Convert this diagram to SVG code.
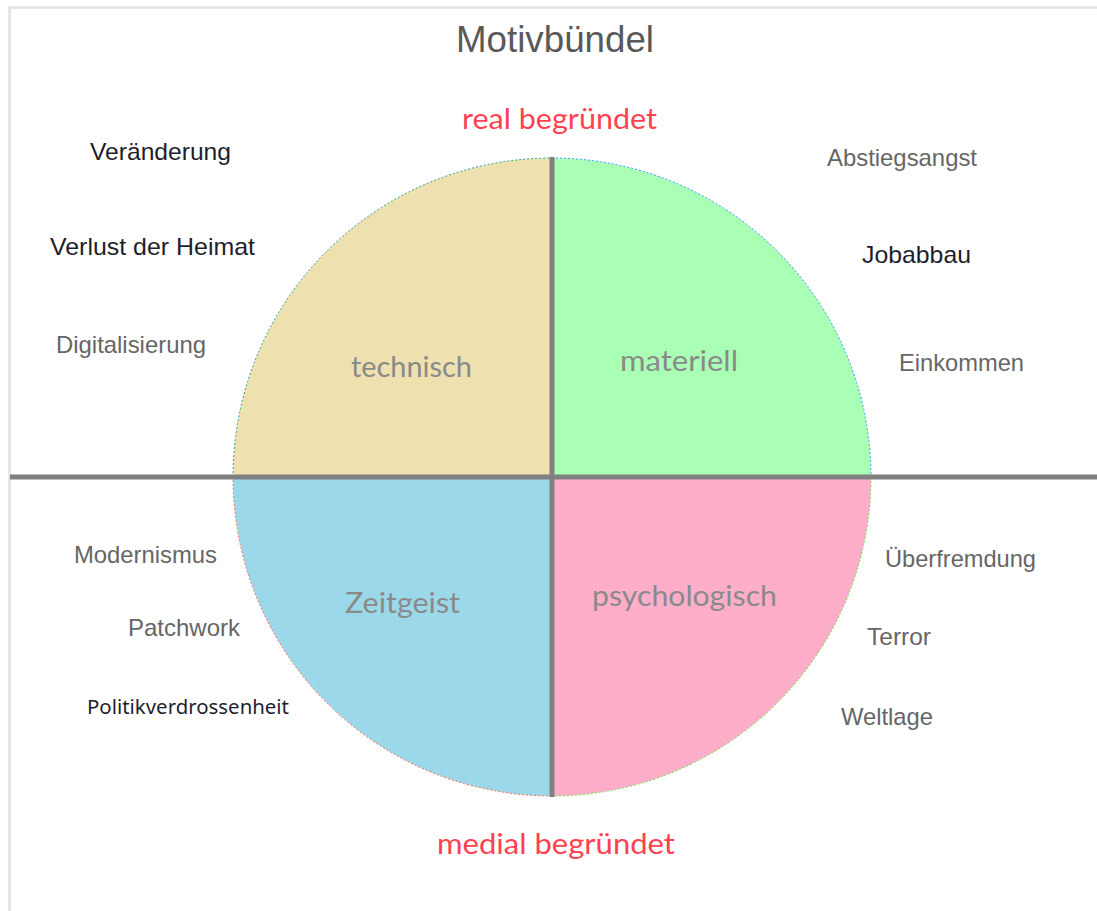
<svg xmlns="http://www.w3.org/2000/svg" width="1097" height="911" viewBox="0 0 1097 911">
<style>
.frame{fill:none;stroke:#e2e2e2;stroke-width:2.5}
.axis{stroke:#808080;stroke-width:5;fill:none}
.edge{fill:none;stroke-width:1;stroke-dasharray:2 2}
.side{font-family:"Liberation Sans",Arial,sans-serif;font-size:24px}
.dark{fill:#1e1e2a}
.grey{fill:#666666}
.quad{font-family:Lato,"Open Sans",sans-serif;font-size:28px;fill:#8a8a8a}
.red{font-family:Lato,"Open Sans",sans-serif;font-size:29px;fill:#ff4150}
.title{font-family:"Liberation Sans",Arial,sans-serif;font-size:37px;fill:#595959}
</style>
<rect x="0" y="0" width="1097" height="911" fill="#ffffff"/>
<path class="frame" d="M9.5,911 L9.5,7.5 L1097,7.5"/>
<text class="title" x="456" y="52" textLength="198" lengthAdjust="spacingAndGlyphs">Motivbündel</text>
<g id="quadrant-technisch">
<path d="M552,477 L233,477 A319,319 0 0 1 552,158 Z" fill="#eee1af"/>
<path class="edge" d="M233,477 A319,319 0 0 1 552,158" stroke="#2a9d8f"/>
<text class="quad" x="351" y="377" textLength="121" lengthAdjust="spacingAndGlyphs">technisch</text>
</g>
<g id="quadrant-materiell">
<path d="M552,477 L552,158 A319,319 0 0 1 871,477 Z" fill="#a9ffb3"/>
<path class="edge" d="M552,158 A319,319 0 0 1 871,477" stroke="#3399ff"/>
<text class="quad" x="620" y="371" textLength="118" lengthAdjust="spacingAndGlyphs">materiell</text>
</g>
<g id="quadrant-psychologisch">
<path d="M552,477 L871,477 A319,319 0 0 1 552,796 Z" fill="#ffaeca"/>
<path class="edge" d="M871,477 A319,319 0 0 1 552,796" stroke="#66dd44"/>
<text class="quad" x="592" y="606" textLength="185" lengthAdjust="spacingAndGlyphs">psychologisch</text>
</g>
<g id="quadrant-zeitgeist">
<path d="M552,477 L552,796 A319,319 0 0 1 233,477 Z" fill="#9bd8e9"/>
<path class="edge" d="M552,796 A319,319 0 0 1 233,477" stroke="#ff6a55"/>
<text class="quad" x="345" y="613" textLength="115" lengthAdjust="spacingAndGlyphs">Zeitgeist</text>
</g>
<g id="connectors">
<line class="axis" x1="10" y1="477" x2="1097" y2="477"/>
<line class="axis" x1="552" y1="157" x2="552" y2="797"/>
</g>
<g id="label-real"><text class="red" x="462" y="129" textLength="195" lengthAdjust="spacingAndGlyphs">real begründet</text></g>
<g id="label-medial"><text class="red" x="437" y="854" textLength="238" lengthAdjust="spacingAndGlyphs">medial begründet</text></g>
<g id="t-veraenderung"><text class="side dark" x="90" y="160" textLength="141" lengthAdjust="spacingAndGlyphs">Veränderung</text></g>
<g id="t-verlust"><text class="side dark" x="50" y="255" textLength="205" lengthAdjust="spacingAndGlyphs">Verlust der Heimat</text></g>
<g id="t-digitalisierung"><text class="side grey" x="56" y="353" textLength="150" lengthAdjust="spacingAndGlyphs">Digitalisierung</text></g>
<g id="t-abstiegsangst"><text class="side grey" x="827" y="166" textLength="150" lengthAdjust="spacingAndGlyphs">Abstiegsangst</text></g>
<g id="t-jobabbau"><text class="side dark" x="862" y="263" textLength="109" lengthAdjust="spacingAndGlyphs">Jobabbau</text></g>
<g id="t-einkommen"><text class="side grey" x="899" y="371" textLength="125" lengthAdjust="spacingAndGlyphs">Einkommen</text></g>
<g id="t-modernismus"><text class="side grey" x="74" y="563" textLength="143" lengthAdjust="spacingAndGlyphs">Modernismus</text></g>
<g id="t-patchwork"><text class="side grey" x="128" y="636" textLength="112" lengthAdjust="spacingAndGlyphs">Patchwork</text></g>
<g id="t-politikverdrossenheit"><text x="87" y="714" font-family="'Noto Sans','Open Sans',sans-serif" font-size="20" fill="#1e1e2a" textLength="202" lengthAdjust="spacingAndGlyphs">Politikverdrossenheit</text></g>
<g id="t-ueberfremdung"><text class="side grey" x="885" y="567" textLength="151" lengthAdjust="spacingAndGlyphs">Überfremdung</text></g>
<g id="t-terror"><text class="side grey" x="867" y="645" textLength="64" lengthAdjust="spacingAndGlyphs">Terror</text></g>
<g id="t-weltlage"><text class="side grey" x="841" y="725" textLength="92" lengthAdjust="spacingAndGlyphs">Weltlage</text></g>
</svg>
